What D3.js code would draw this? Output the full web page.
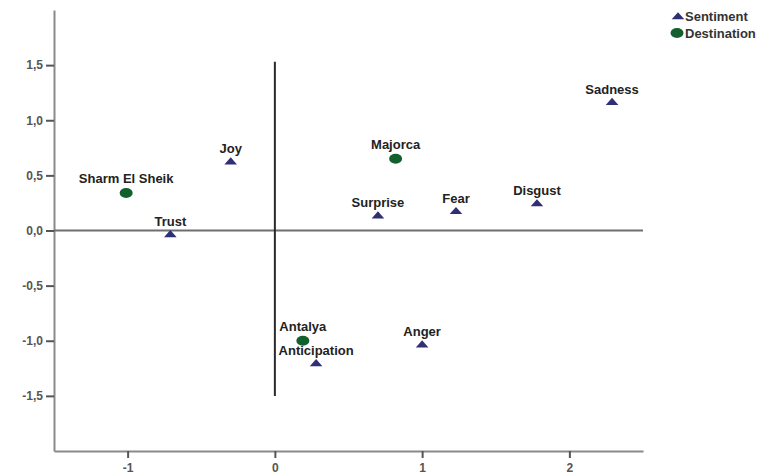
<!DOCTYPE html>
<html><head><meta charset="utf-8">
<script src="https://cdn.jsdelivr.net/npm/d3@7"></script>
<style>body{margin:0;background:#fff;}svg{display:block;}</style>
</head><body>
<script>
const sentimentLabels = ["Joy","Trust","Surprise","Fear","Disgust","Sadness","Anger","Anticipation"];
const sentimentX = [-0.30,-0.71,0.70,1.23,1.78,2.29,1.00,0.28];
const sentimentY = [0.63,-0.03,0.14,0.18,0.25,1.17,-1.03,-1.20];
const destLabels = ["Sharm El Sheik","Majorca","Antalya"];
const destX = [-1.01,0.82,0.19];
const destY = [0.34,0.65,-1.00];
const xTicks = [-1,0,1,2];
const yTicks = [-1.5,-1.0,-0.5,0.0,0.5,1.0,1.5];
const legendLabels = ["Sentiment","Destination"];

const W=761,H=475;
const svg=d3.select("body").append("svg").attr("width",W).attr("height",H);
const x=d3.scaleLinear().domain([-1.5,2.5]).range([54,643]);
const y=d3.scaleLinear().domain([-2,2]).range([451,10]);
const fmt=d=>d3.format(".1f")(d).replace(".",",").replace("−","-");

const axisColor="#8a8a8a";
const gx=svg.append("g").attr("transform",`translate(0,${y(-2)})`)
  .call(d3.axisBottom(x).tickValues(xTicks).tickSize(7).tickSizeOuter(0).tickPadding(5).tickFormat(d3.format("d")));
const gy=svg.append("g").attr("transform",`translate(${x(-1.5)},0)`)
  .call(d3.axisLeft(y).tickValues(yTicks).tickSize(8).tickSizeOuter(0).tickPadding(3).tickFormat(fmt));
[gx,gy].forEach(g=>{
  g.select(".domain").attr("stroke",axisColor).attr("stroke-width",2);
  g.selectAll(".tick line").attr("stroke","#555").attr("stroke-width",2);
  g.selectAll(".tick text").attr("fill","#555").attr("font-family","Liberation Sans, Arial, sans-serif")
   .attr("font-size",12).attr("font-weight","bold");
});
gx.selectAll(".tick text").text(d=>d<0?"-"+Math.abs(d):d);

// reference lines
svg.append("line").attr("x1",x(-1.5)).attr("x2",x(2.5)).attr("y1",y(0)).attr("y2",y(0))
  .attr("stroke","#6e6e6e").attr("stroke-width",2);
svg.append("line").attr("x1",x(0)).attr("x2",x(0)).attr("y1",y(1.53)).attr("y2",y(-1.5))
  .attr("stroke","#2a2a2a").attr("stroke-width",2);

const triColor="#2f2f73", dotColor="#13602f";
const tri=d3.symbol().type(d3.symbolTriangle).size(52);
const labelFont={family:"Liberation Sans, Arial, sans-serif",size:13};

const sdata=sentimentLabels.map((l,i)=>({l,x:sentimentX[i],y:sentimentY[i]}));
svg.append("g").selectAll("path").data(sdata).join("path")
  .attr("d",tri).attr("transform",d=>`translate(${x(d.x)},${y(d.y)+1}) scale(1.15,0.75)`)
  .attr("fill",triColor);
svg.append("g").selectAll("text").data(sdata).join("text")
  .attr("x",d=>x(d.x)).attr("y",d=>y(d.y)-8).attr("text-anchor","middle")
  .attr("font-family",labelFont.family).attr("font-size",labelFont.size).attr("font-weight","bold")
  .attr("fill","#222").text(d=>d.l);

const ddata=destLabels.map((l,i)=>({l,x:destX[i],y:destY[i]}));
svg.append("g").selectAll("ellipse").data(ddata).join("ellipse")
  .attr("cx",d=>x(d.x)).attr("cy",d=>y(d.y)).attr("rx",6.5).attr("ry",5)
  .attr("fill",dotColor);
svg.append("g").selectAll("text").data(ddata).join("text")
  .attr("x",d=>x(d.x)).attr("y",d=>y(d.y)-10).attr("text-anchor","middle")
  .attr("font-family",labelFont.family).attr("font-size",labelFont.size).attr("font-weight","bold")
  .attr("fill","#222").text(d=>d.l);

const lg=svg.append("g");
lg.append("path").attr("d",tri).attr("transform",`translate(678,17) scale(1.15,0.75)`).attr("fill",triColor);
lg.append("ellipse").attr("cx",677).attr("cy",33).attr("rx",6.5).attr("ry",5).attr("fill",dotColor);
lg.selectAll("text").data(legendLabels).join("text")
  .attr("x",685).attr("y",(d,i)=>21+i*16.5)
  .attr("font-family",labelFont.family).attr("font-size",13).attr("font-weight","bold")
  .attr("fill","#333").text(d=>d);
</script>
</body></html>
